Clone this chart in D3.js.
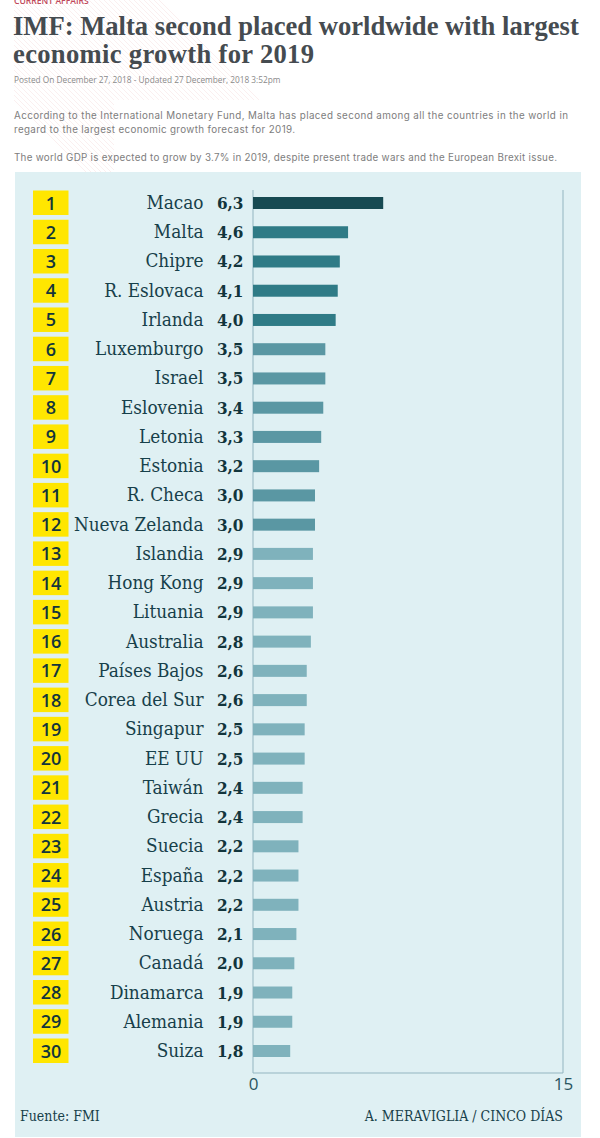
<!DOCTYPE html>
<html><head><meta charset="utf-8">
<script src="https://cdnjs.cloudflare.com/ajax/libs/d3/7.8.5/d3.min.js"></script>
<style>html,body{margin:0;padding:0;background:#fff}svg{display:block}</style>
</head><body><svg id="c" width="600" height="1138"></svg>
<script>
const ranks = d3.range(1, 31);
const countries = ["Macao","Malta","Chipre","R. Eslovaca","Irlanda","Luxemburgo","Israel","Eslovenia","Letonia","Estonia","R. Checa","Nueva Zelanda","Islandia","Hong Kong","Lituania","Australia","Países Bajos","Corea del Sur","Singapur","EE UU","Taiwán","Grecia","Suecia","España","Austria","Noruega","Canadá","Dinamarca","Alemania","Suiza"];
const growth = [6.3,4.6,4.2,4.1,4.0,3.5,3.5,3.4,3.3,3.2,3.0,3.0,2.9,2.9,2.9,2.8,2.6,2.6,2.5,2.5,2.4,2.4,2.2,2.2,2.2,2.1,2.0,1.9,1.9,1.8];
const xTicks = [0, 15];
const tierBreaks = [3, 4, 6];
const tierColors = ["#7fb2bc","#5a97a3","#2f7b86","#174a52"];
const bodyLines = [
 ["According to the International Monetary Fund, Malta has placed second among all the countries in the world in", 119, 554],
 ["regard to the largest economic growth forecast for 2019.", 133, 281],
 ["The world GDP is expected to grow by 3.7% in 2019, despite present trade wars and the European Brexit issue.", 161, 543]];

const svg = d3.select("#c");
const SERIF = "'DejaVu Serif Condensed','DejaVu Serif',serif";
const SANS = "'Inter','Open Sans',sans-serif";
const x = d3.scaleLinear().domain([0, 15]).range([253, 563]);
const y = d3.scalePoint().domain(ranks).range([203, 1051]);
const color = d3.scaleThreshold().domain(tierBreaks).range(tierColors);

// faint page decoration behind the header
const deco = svg.append("g").attr("stroke", "#f8e4e4").attr("stroke-width", .6);
d3.range(-100, 150, 5).forEach(d => {
  deco.append("line").attr("x1", 14 + Math.max(d, 0)).attr("y1", Math.max(-d, 0)).attr("x2", 14 + Math.max(d, 0) + 100).attr("y2", Math.max(-d, 0) + 100);
});
svg.append("rect").attr("x", 0).attr("y", 0).attr("width", 14).attr("height", 110).attr("fill", "#fff");

svg.append("text").attr("x", 14).attr("y", 4).attr("font-family", "'Open Sans',sans-serif").attr("font-weight", 600).attr("font-size", 8.6).attr("fill", "#c0485a").text("CURRENT AFFAIRS");
[["IMF: Malta second placed worldwide with largest", 35, null], ["economic growth for 2019", 63, 301]].forEach(([t, yy, w]) => {
  const el = svg.append("text").attr("x", 13).attr("y", yy).attr("font-family", "'Liberation Serif',serif").attr("font-weight", 700).attr("font-size", 26.6).attr("fill", "#454b50").text(t);
  if (w) el.attr("textLength", w).attr("lengthAdjust", "spacing");
});
svg.append("text").attr("x", 14).attr("y", 83).attr("font-family", "'Open Sans',sans-serif").attr("font-size", 8.3).attr("fill", "#8a8a8a").text("Posted On December 27, 2018 - Updated 27 December, 2018 3:52pm");
bodyLines.forEach(([t, yy, w]) => svg.append("text").attr("x", 14).attr("y", yy).attr("font-family", SANS).attr("font-size", 9.8).attr("textLength", w).attr("lengthAdjust", "spacing").attr("fill", "#7d7d7d").text(t));

// panel
svg.append("rect").attr("x", 15).attr("y", 172).attr("width", 566).attr("height", 965).attr("fill", "#dff0f3");

// plot frame
svg.append("path").attr("d", `M${x(0)},190V1073H${x(15)}V190`).attr("fill", "none").attr("stroke", "#93b5c0").attr("stroke-width", 1);

const rows = svg.append("g").selectAll("g").data(ranks.map((r, i) => ({r, c: countries[i], v: growth[i]}))).join("g");
rows.append("rect").attr("x", 33).attr("width", 35.5).attr("y", d => y(d.r) - 12.5).attr("height", 24.5).attr("fill", "#ffe600");
rows.append("text").attr("x", 51).attr("y", d => y(d.r) + 6.5).attr("text-anchor", "middle").attr("font-family", "'Open Sans',sans-serif").attr("font-weight", 600).attr("font-size", 18).attr("fill", "#12353c").text(d => d.r);
rows.append("text").attr("x", 203.5).attr("y", d => y(d.r) + 6).attr("text-anchor", "end").attr("font-family", SERIF).attr("font-size", 18.8).attr("fill", "#17404a").text(d => d.c);
rows.append("text").attr("x", 243.5).attr("y", d => y(d.r) + 6).attr("text-anchor", "end").attr("font-family", SERIF).attr("font-weight", 700).attr("font-size", 17).attr("fill", "#12353c").text(d => d3.format(".1f")(d.v).replace(".", ","));
rows.append("rect").attr("x", x(0)).attr("y", d => y(d.r) - 6).attr("height", 12).attr("width", d => x(d.v) - x(0)).attr("fill", d => color(d.v));

const axis = d3.axisBottom(x).tickValues(xTicks).tickSize(0).tickPadding(0);
const ax = svg.append("g").attr("transform", "translate(0,1078)").call(axis);
ax.select(".domain").remove();
ax.selectAll("text").attr("font-family", "'Open Sans',sans-serif").attr("font-size", 17).attr("fill", "#2a5560");

svg.append("text").attr("x", 20).attr("y", 1121).attr("font-family", SERIF).attr("font-size", 14).attr("fill", "#17404a").text("Fuente: FMI");
svg.append("text").attr("x", 563).attr("y", 1121).attr("text-anchor", "end").attr("font-family", SERIF).attr("font-size", 14).attr("fill", "#17404a").text("A. MERAVIGLIA / CINCO DÍAS");
</script></body></html>
